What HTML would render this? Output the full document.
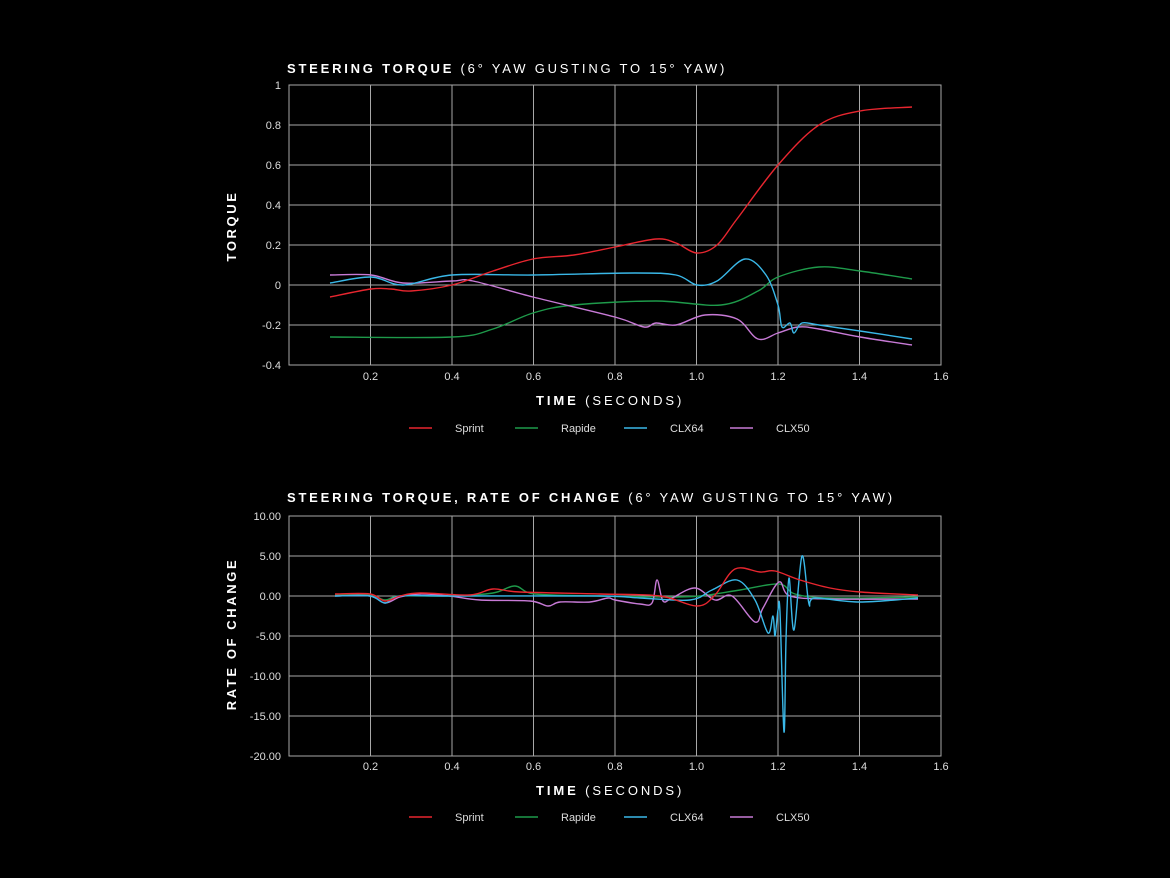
<!DOCTYPE html>
<html><head><meta charset="utf-8"><style>
html,body{margin:0;padding:0;background:#000;}
svg{display:block;font-family:"Liberation Sans",sans-serif;}
</style></head><body>
<svg id="s" width="1170" height="878" viewBox="0 0 1170 878" xmlns="http://www.w3.org/2000/svg">
<rect width="1170" height="878" fill="#000"/>
<g id="grid" stroke="#a8a8a8" stroke-width="1" fill="none"></g>
<g id="txt" fill="#ddd" font-size="11"></g>
<text x="287" y="73" fill="#fff" font-size="13" font-weight="bold" letter-spacing="2.78">STEERING TORQUE <tspan font-weight="normal">(6° YAW GUSTING TO 15° YAW)</tspan></text>
<text x="287" y="502" fill="#fff" font-size="13" font-weight="bold" letter-spacing="2.78">STEERING TORQUE, RATE OF CHANGE <tspan font-weight="normal">(6° YAW GUSTING TO 15° YAW)</tspan></text>
<text x="536" y="405" fill="#fff" font-size="13" font-weight="bold" letter-spacing="2.9">TIME <tspan font-weight="normal">(SECONDS)</tspan></text>
<text x="536" y="795" fill="#fff" font-size="13" font-weight="bold" letter-spacing="2.9">TIME <tspan font-weight="normal">(SECONDS)</tspan></text>
<text transform="translate(236,226) rotate(-90)" text-anchor="middle" fill="#fff" font-size="13" font-weight="bold" letter-spacing="2.6">TORQUE</text>
<text transform="translate(236,634) rotate(-90)" text-anchor="middle" fill="#fff" font-size="13" font-weight="bold" letter-spacing="2.6">RATE OF CHANGE</text>
<g id="series" fill="none" stroke-width="1.4"></g>
<g id="leg" font-size="11" fill="#ddd"></g>
</svg>
<script>
var NS="http://www.w3.org/2000/svg";
function el(p,t,a,txt){var e=document.createElementNS(NS,t);for(var k in a)e.setAttribute(k,a[k]);if(txt!=null)e.textContent=txt;document.getElementById(p).appendChild(e);return e;}
function X(t){return 289+t*407.5;}
[[85,365,[1,0.8,0.6,0.4,0.2,0,-0.2,-0.4],function(v){return 285-v*200},function(v){return v==1?"1":(v==0?"0":String(v))},380],
 [516,756,[10,5,0,-5,-10,-15,-20],function(v){return 596-v*8},function(v){return v.toFixed(2)},770]].forEach(function(c){
  el("grid","rect",{x:289,y:c[0],width:652,height:c[1]-c[0]});
  c[2].forEach(function(v){var y=c[3](v);el("grid","line",{x1:289,x2:941,y1:y,y2:y});
    el("txt","text",{x:281,y:y+4,"text-anchor":"end"},c[4](v));});
  for(var i=1;i<=8;i++){var x=X(i*0.2);if(i<8)el("grid","line",{x1:x,x2:x,y1:c[0],y2:c[1]});
    el("txt","text",{x:x,y:c[5],"text-anchor":"middle"},(i*0.2).toFixed(1));}
});
function cr(p){var d="M"+p[0][0]+","+p[0][1];for(var i=0;i<p.length-1;i++){var p0=p[i-1]||p[i],p1=p[i],p2=p[i+1],p3=p[i+2]||p2;
 d+=" C"+(p1[0]+(p2[0]-p0[0])/6).toFixed(1)+","+(p1[1]+(p2[1]-p0[1])/6).toFixed(1)+" "+(p2[0]-(p3[0]-p1[0])/6).toFixed(1)+","+(p2[1]-(p3[1]-p1[1])/6).toFixed(1)+" "+p2[0]+","+p2[1];}return d;}
var C={r:"#e8262f",g:"#1e9a4a",b:"#3ab8e8",p:"#c77ad6"};
var S=[
[C.g,[[330,337],[452,337],[493,329],[533,313],[574,305],[656,301],[721,305],[758,291],[778,277],[819,267],[860,271],[912,279]]],
[C.p,[[330,275],[371,275],[403,283],[452,281],[473,281],[533,297],[615,317],[644,327],[656,323],[676,325],[705,315],[737,319],[758,339],[778,333],[798,327],[819,329],[860,337],[912,345]]],
[C.b,[[330,283],[371,277],[403,285],[452,275],[533,275],[635,273],[676,275],[697,285],[717,281],[745,259],[766,275],[778,305],[782,327],[790,323],[794,333],[802,323],[819,325],[860,331],[912,339]]],
[C.r,[[330,297],[371,289],[391,289],[411,291],[452,285],[493,271],[533,259],[574,255],[615,247],[656,239],[676,243],[697,253],[717,245],[737,219],[778,165],[819,125],[860,111],[912,107]]],
[C.g,[[335,595],[370,595],[385,600],[400,596],[450,596],[493,593],[515,586],[535,594],[600,596],[660,597],[700,596],[740,590],[779,584],[795,594],[830,598],[918,597]]],
[C.p,[[335,596],[370,596],[385,603],[400,597],[420,594],[450,596],[480,600],[530,601],[548,606],[560,602],[590,602],[608,598],[615,600],[640,604],[652,603],[657,580],[663,601],[672,598],[695,588],[715,600],[732,596],[755,622],[763,608],[779,582],[790,596],[830,599],[918,599]]],
[C.b,[[335,596],[370,596],[385,603],[400,596],[450,596],[600,596],[640,598],[690,600],[712,590],[737,580],[755,600],[768,633],[773,616],[775,636],[778,610],[780,612],[784,732],[786,640],[789,578],[794,630],[802,556],[809,604],[815,598],[860,602],[918,598]]],
[C.r,[[335,594],[370,594],[385,601],[400,596],[420,593],[470,595],[493,589],[520,592],[600,594],[660,596],[697,606],[715,595],[735,569],[760,572],[775,571],[800,580],[830,588],[860,592],[918,595]]]
];
S.forEach(function(s){el("series","path",{d:cr(s[1]),stroke:s[0]});});
[428,817].forEach(function(y){
 [[409,C.r,"Sprint"],[515,C.g,"Rapide"],[624,C.b,"CLX64"],[730,C.p,"CLX50"]].forEach(function(l){
  el("leg","line",{x1:l[0],x2:l[0]+23,y1:y,y2:y,stroke:l[1],"stroke-width":1.6});
  el("leg","text",{x:l[0]+46,y:y+4},l[2]);});
});
</script>
</body></html>
